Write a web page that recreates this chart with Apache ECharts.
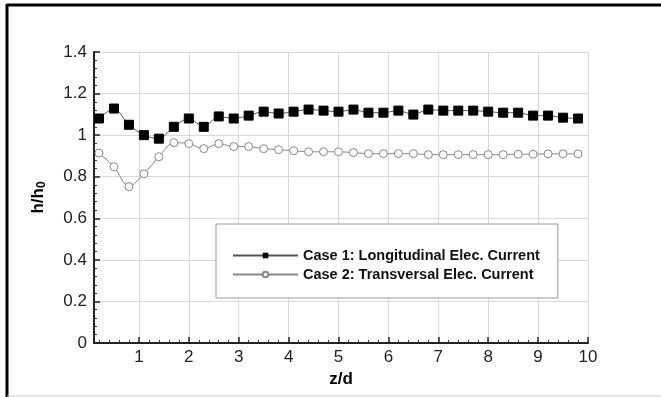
<!DOCTYPE html>
<html>
<head>
<meta charset="utf-8">
<script src="https://cdn.jsdelivr.net/npm/echarts@6/dist/echarts.min.js"></script>
<style>
  html, body { margin: 0; padding: 0; background: #fff; }
  #chart { width: 661px; height: 397px; }
</style>
</head>
<body>
<div id="chart"></div>
<script>
// z/d positions of the markers
const zd = [0.2, 0.5, 0.8, 1.1, 1.4, 1.7, 2.0, 2.3, 2.6, 2.9, 3.2,
  3.5, 3.8, 4.1, 4.4, 4.7, 5.0, 5.3, 5.6, 5.9, 6.2, 6.5, 6.8, 7.1,
  7.4, 7.7, 8.0, 8.3, 8.6, 8.9, 9.2, 9.5, 9.8];
// Case 1: Longitudinal Elec. Current
const case1 = [1.08, 1.128, 1.05, 1.0, 0.983, 1.04, 1.08, 1.04, 1.09, 1.08, 1.094,
  1.113, 1.104, 1.113, 1.123, 1.118, 1.113, 1.123, 1.108, 1.108, 1.118, 1.099, 1.123, 1.118,
  1.118, 1.118, 1.113, 1.108, 1.108, 1.094, 1.094, 1.084, 1.08];
// Case 2: Transversal Elec. Current
const case2 = [0.914, 0.848, 0.752, 0.814, 0.896, 0.964, 0.959, 0.935, 0.959, 0.945, 0.945,
  0.935, 0.930, 0.925, 0.920, 0.920, 0.920, 0.916, 0.911, 0.911, 0.911, 0.911, 0.906, 0.906,
  0.906, 0.906, 0.906, 0.906, 0.908, 0.908, 0.91, 0.91, 0.91];
const names = ['Case 1: Longitudinal Elec. Current', 'Case 2: Transversal Elec. Current'];

const pairs = (ys) => zd.map((x, i) => [x, ys[i]]);
const font = 'Arial, "Liberation Sans", sans-serif';

const myChart = echarts.init(document.getElementById('chart'));
myChart.setOption({
  animation: false,
  backgroundColor: '#fff',
  grid: { left: 94, right: 73, top: 52, bottom: 54 },
  xAxis: {
    type: 'value',
    min: 0.1,
    max: 10,
    splitNumber: 10,
    name: 'z/d',
    nameLocation: 'middle',
    nameGap: 27,
    nameTextStyle: { fontFamily: font, fontWeight: 'bold', fontSize: 17, color: '#000' },
    axisLine: { lineStyle: { color: '#222', width: 2 } },
    axisTick: { inside: true, length: 6, lineStyle: { color: '#222', width: 1.5 } },
    minorTick: { show: true, splitNumber: 5, length: 3, lineStyle: { color: '#333' } },
    axisLabel: { showMinLabel: false, margin: 6, fontFamily: font, fontSize: 17, color: '#222' },
    splitLine: { show: true, lineStyle: { color: '#d9d9d9', width: 1 } }
  },
  yAxis: {
    type: 'value',
    min: 0,
    max: 1.4,
    interval: 0.2,
    name: '{a|h/h}{b|0}',
    nameLocation: 'middle',
    nameRotate: 90,
    nameGap: 46,
    nameTextStyle: {
      rich: {
        a: { fontFamily: font, fontWeight: 'bold', fontSize: 17, color: '#000' },
        b: { fontFamily: font, fontWeight: 'bold', fontSize: 12, color: '#000', verticalAlign: 'bottom', padding: [8, 0, 0, 0] }
      }
    },
    axisLine: { show: true, lineStyle: { color: '#222', width: 2 } },
    axisTick: { inside: true, length: 6, lineStyle: { color: '#222', width: 1.5 } },
    minorTick: { show: true, splitNumber: 5, length: 3, lineStyle: { color: '#333' } },
    axisLabel: {
      margin: 7, fontFamily: font, fontSize: 17, color: '#222',
      formatter: (v) => String(Math.round(v * 10) / 10)
    },
    splitLine: { show: true, lineStyle: { color: '#d9d9d9', width: 1 } }
  },
  legend: {
    orient: 'vertical',
    left: 216,
    top: 224,
    padding: [24, 18, 16, 16],
    itemGap: 4,
    itemWidth: 65,
    itemHeight: 7,
    backgroundColor: '#fff',
    borderColor: '#999',
    borderWidth: 1,
    textStyle: { fontFamily: font, fontWeight: 'bold', fontSize: 14.5, color: '#111', lineHeight: 14 },
    data: names
  },
  series: [
    {
      name: names[0],
      type: 'line',
      data: pairs(case1),
      smooth: 0.3,
      symbol: 'rect',
      symbolSize: 9,
      itemStyle: { color: '#000', borderColor: '#000' },
      lineStyle: { color: '#555', width: 1 },
      z: 3
    },
    {
      name: names[1],
      type: 'line',
      data: pairs(case2),
      smooth: 0.3,
      symbol: 'circle',
      symbolSize: 8,
      showAllSymbol: true,
      itemStyle: { color: '#fff', borderColor: '#888', borderWidth: 1 },
      lineStyle: { color: '#888', width: 1 },
      z: 2
    }
  ],
  graphic: [
    { type: 'line', shape: { x1: 7, y1: 5, x2: 661, y2: 5 }, style: { stroke: '#000', lineWidth: 3 } },
    { type: 'line', shape: { x1: 7, y1: 4, x2: 7, y2: 397 }, style: { stroke: '#000', lineWidth: 3 } },
    { type: 'line', shape: { x1: 7, y1: 396, x2: 661, y2: 396 }, style: { stroke: '#ccc', lineWidth: 1 } }
  ]
});
</script>
</body>
</html>
